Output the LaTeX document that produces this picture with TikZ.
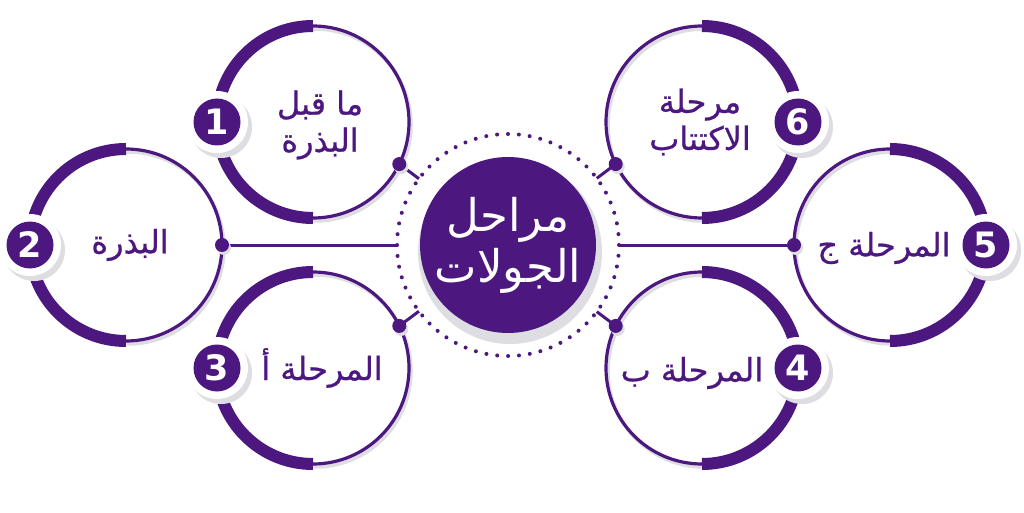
\documentclass[tikz,border=0pt]{standalone}
\usepackage{fontspec}
\setmainfont{DejaVu Sans}
\newfontfamily\arabicfont[Script=Arabic]{DejaVu Sans}
\newfontfamily\stagefont[Script=Arabic,FakeBold=0.7]{DejaVu Sans}
\TeXXeTstate=1
\usetikzlibrary{calc}
\definecolor{stagepurple}{RGB}{76,24,128}
\definecolor{shadegray}{RGB}{222,222,226}

\begin{document}
\begin{tikzpicture}[x=1pt,y=1pt,
  ring/.style={draw=stagepurple, line width=3.2pt},
  heavy/.style={draw=stagepurple, line width=12pt},
  shade/.style={draw=shadegray, line width=3.5pt},
  link/.style={draw=stagepurple, line width=3pt},
  joint/.style={circle, fill=stagepurple, minimum size=14pt, inner sep=0pt},
  halo/.style={circle, fill=white, minimum size=62pt, inner sep=0pt},
  haloshade/.style={circle, fill=shadegray, minimum size=62pt, inner sep=0pt},
  badge/.style={circle, fill=stagepurple, text=white, minimum size=47pt, inner sep=0pt,
    font=\fontsize{35}{35}\selectfont\bfseries},
  stagetext/.style={text=stagepurple, align=center,
    font=\stagefont\fontsize{32}{37}\selectfont},
  hubtext/.style={circle, fill=stagepurple, text=white, minimum size=176pt, inner sep=0pt,
    align=center, font=\arabicfont\fontsize{45}{51}\selectfont}]

\useasboundingbox[fill=white] (0,0) rectangle (1024,512);

% define the centres of the stage circles
  \coordinate (hub) at (508,267);
  \coordinate (s1) at (313,390);
  \coordinate (s2) at (126,267);
  \coordinate (s3) at (313,144);
  \coordinate (s6) at (702,390);
  \coordinate (s5) at (890,267);
  \coordinate (s4) at (702,144);

% shadows of the rings
  \foreach \s in {s1,s2,s3,s4,s5,s6}
    \draw[shade] ($(\s)+(2,-3)$) circle[radius=96];

% left rings: heavy half towards the badge
  \foreach \s in {s1,s2,s3} {
    \draw[ring] (\s) ++(90:96) arc[start angle=90, end angle=-90, radius=96];
    \draw[heavy] (\s) ++(90:96) arc[start angle=90, end angle=270, radius=96];
  }
% right rings
  \foreach \s in {s4,s5,s6} {
    \draw[ring] (\s) ++(90:96) arc[start angle=90, end angle=270, radius=96];
    \draw[heavy] (\s) ++(90:96) arc[start angle=90, end angle=-90, radius=96];
  }

% points where the links meet the dotted ring
  \coordinate (j1) at ($(s1)+(-26:96)$);
  \coordinate (j2) at ($(s2)+(0:96)$);
  \coordinate (j3) at ($(s3)+(26:96)$);
  \coordinate (j4) at ($(s4)+(154:96)$);
  \coordinate (j5) at ($(s5)+(180:96)$);
  \coordinate (j6) at ($(s6)+(206:96)$);
  \foreach \j in {1,...,6}
    \coordinate (r\j) at ($(hub)!111pt!(j\j)$);

% define the links
  \foreach \j in {1,...,6} {
    \draw[link] (j\j) -- (r\j);
    \fill[shadegray] ($(j\j)+(2,-3)$) circle[radius=7];
    \node[joint] (k\j) at (j\j) {};
  }

% the hub with its dotted ring
  \draw[stagepurple, line width=4pt, line cap=round, dash pattern=on 0pt off 10.9pt]
    (hub) circle[radius=111];
  \fill[shadegray] ($(hub)+(2,-7)$) circle[radius=92];
  \node[hubtext] (title) at (hub)
    {\beginR مراحل\endR\\\beginR الجولات\endR};

% badges
  \foreach \s/\a/\n in {s1/180/1, s2/180/2, s3/180/3, s4/0/4, s5/0/5, s6/0/6} {
    \node[haloshade] at ($(\s)+(\a:96)+(4,-5)$) {};
    \node[halo] at ($(\s)+(\a:96)$) {};
    \node[badge] (b\n) at ($(\s)+(\a:96)$) {\n};
  }

% stage labels
  \node[stagetext] (t1) at ($(s1)+(7,-3)$) {\beginR ما قبل\endR\\\beginR البذرة\endR};
  \node[stagetext] (t2) at ($(s2)+(4,0)$) {\beginR البذرة\endR};
  \node[stagetext] (t3) at ($(s3)+(9,0)$) {\beginR المرحلة أ\endR};
  \node[stagetext] (t4) at ($(s4)+(-10,-5)$) {\beginR المرحلة ب\endR};
  \node[stagetext] (t5) at ($(s5)+(-6,-3)$) {\beginR المرحلة ج\endR};
  \node[stagetext] (t6) at ($(s6)+(-2,0)$) {\beginR مرحلة\endR\\\beginR الاكتتاب\endR};

\end{tikzpicture}
\end{document}
